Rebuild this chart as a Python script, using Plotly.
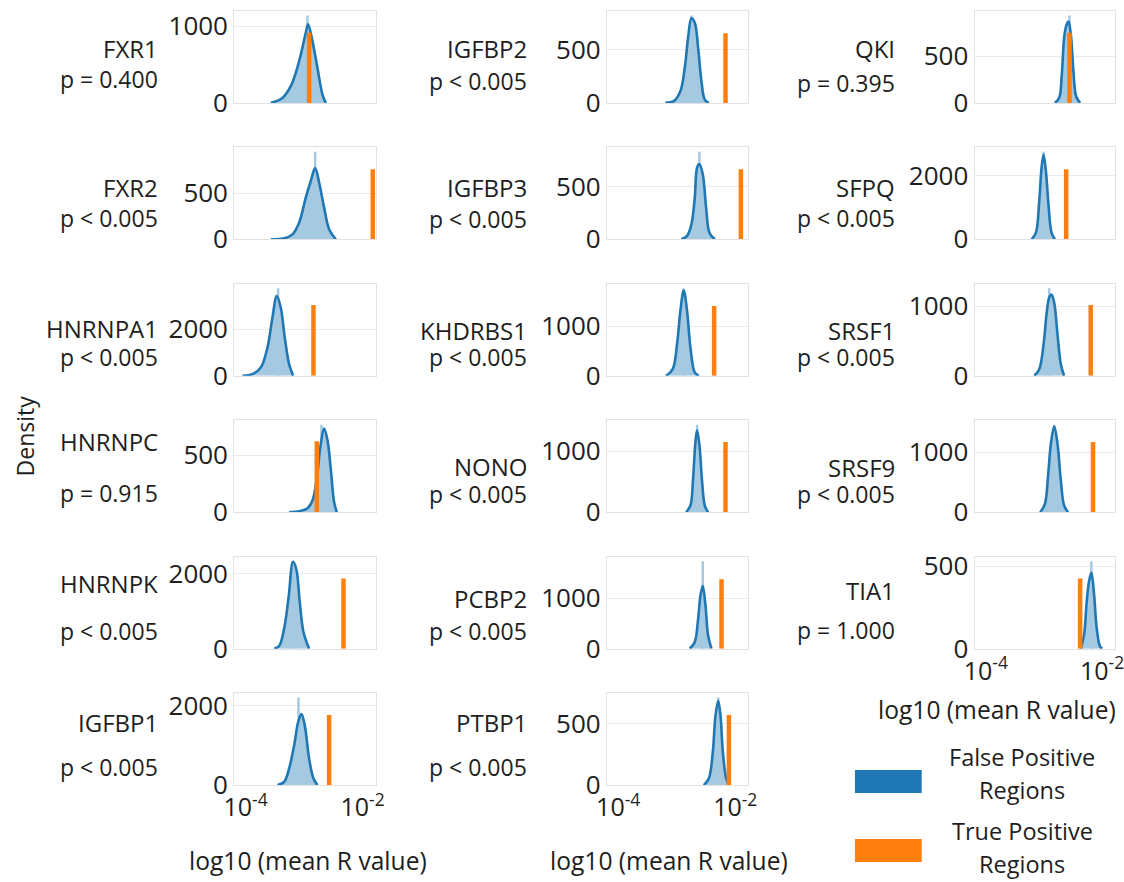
import plotly.graph_objects as go

# ---------------- data ----------------
genes = ["FXR1", "FXR2", "HNRNPA1", "HNRNPC", "HNRNPK", "IGFBP1",
         "IGFBP2", "IGFBP3", "KHDRBS1", "NONO", "PCBP2", "PTBP1",
         "QKI", "SFPQ", "SRSF1", "SRSF9", "TIA1"]

p_labels = ["p = 0.400", "p < 0.005", "p < 0.005", "p = 0.915", "p < 0.005", "p < 0.005",
            "p < 0.005", "p < 0.005", "p < 0.005", "p < 0.005", "p < 0.005", "p < 0.005",
            "p = 0.395", "p < 0.005", "p < 0.005", "p < 0.005", "p = 1.000"]

# KDE of false-positive regions: log10(mean R value) and density
kde_log10 = [
    [-3.569, -3.370, -3.227, -3.142, -3.056, -2.971, -2.931, -2.857, -2.772, -2.686, -2.629],
    [-3.569, -3.341, -3.199, -3.085, -2.971, -2.885, -2.811, -2.743, -2.658, -2.572, -2.458],
    [-4.054, -3.883, -3.740, -3.626, -3.541, -3.467, -3.398, -3.330, -3.256, -3.187],
    [-3.256, -3.085, -2.942, -2.857, -2.783, -2.726, -2.658, -2.600, -2.544, -2.487, -2.441],
    [-3.512, -3.427, -3.341, -3.267, -3.188, -3.131, -3.074, -3.011, -2.914],
    [-3.455, -3.341, -3.256, -3.170, -3.102, -3.045, -2.988, -2.914, -2.840, -2.772],
    [-3.195, -3.052, -2.938, -2.863, -2.806, -2.749, -2.692, -2.635, -2.578, -2.521, -2.452],
    [-2.921, -2.823, -2.749, -2.692, -2.652, -2.612, -2.555, -2.498, -2.441, -2.349],
    [-3.183, -3.069, -2.995, -2.938, -2.881, -2.823, -2.766, -2.692, -2.624],
    [-2.841, -2.766, -2.721, -2.681, -2.652, -2.612, -2.566, -2.521, -2.464],
    [-2.778, -2.692, -2.635, -2.595, -2.555, -2.509, -2.464, -2.407],
    [-2.538, -2.452, -2.384, -2.338, -2.292, -2.252, -2.212, -2.155, -2.109],
    [-2.812, -2.737, -2.692, -2.652, -2.612, -2.577, -2.537, -2.492, -2.446, -2.377],
    [-3.211, -3.137, -3.080, -3.040, -3.006, -2.966, -2.926, -2.869, -2.812],
    [-3.166, -3.080, -3.006, -2.949, -2.909, -2.869, -2.823, -2.766, -2.709, -2.652],
    [-3.063, -2.983, -2.926, -2.880, -2.823, -2.766, -2.709, -2.652, -2.583],
    [-2.366, -2.309, -2.263, -2.223, -2.183, -2.137, -2.092, -2.035, -1.995],
]
kde_density = [
    [0, 65, 217, 391, 630, 913, 1022, 804, 457, 109, 0],
    [0, 11, 54, 181, 453, 634, 772, 616, 344, 109, 0],
    [0, 71, 357, 1214, 2500, 3430, 2930, 1643, 500, 0],
    [0, 9, 35, 103, 294, 559, 735, 632, 382, 88, 0],
    [0, 71, 533, 1333, 2311, 2100, 1244, 444, 0],
    [0, 83, 417, 1000, 1583, 1792, 1500, 667, 167, 0],
    [0, 16, 109, 328, 609, 791, 750, 516, 203, 31, 0],
    [0, 32, 142, 396, 680, 712, 617, 301, 63, 0],
    [0, 133, 633, 1300, 1713, 1300, 567, 67, 0],
    [0, 110, 549, 1154, 1346, 1099, 495, 110, 0],
    [0, 131, 588, 1046, 1242, 850, 261, 0],
    [0, 54, 270, 568, 689, 568, 270, 54, 0],
    [0, 54, 304, 696, 832, 868, 732, 339, 71, 0],
    [0, 211, 1211, 2263, 2663, 2158, 1211, 211, 0],
    [0, 95, 452, 929, 1119, 1167, 1048, 595, 167, 0],
    [0, 139, 639, 1139, 1428, 1139, 528, 111, 0],
    [0, 85, 287, 409, 459, 328, 125, 14, 0],
]

# tallest histogram bin of the false-positive regions
hist_peak_log10 = [-2.942, -2.811, -3.444, -2.703, -3.188, -3.096,
                   -2.749, -2.612, -2.881, -2.652, -2.555, -2.292,
                   -2.560, -3.006, -2.909, -2.823, -2.183]
hist_peak_density = [1139, 949, 3769, 770, 2328, 2207,
                     818, 829, 1759, 1439, 1730, 715,
                     935, 2757, 1256, 1455, 530]

# true-positive regions: position and height of the orange bar
tp_log10 = [-2.914, -1.826, -2.840, -2.783, -2.327, -2.572,
            -2.167, -1.904, -2.361, -2.167, -2.235, -2.109,
            -2.560, -2.617, -2.195, -2.155, -2.377]
tp_height = [913, 761, 3044, 624, 1867, 1767,
             650, 665, 1400, 1154, 1373, 573,
             750, 2211, 1014, 1167, 425]

y_tick = [1000, 500, 2000, 500, 2000, 2000,
          500, 500, 1000, 1000, 1000, 500,
          500, 2000, 1000, 1000, 500]

x_tick_vals = [1e-4, 1e-2]
x_tick_text = ["10<sup>-4</sup>", "10<sup>-2</sup>"]

legend_labels = [["False Positive", "Regions"], ["True Positive", "Regions"]]

# ---------------- layout geometry (target pixels) ----------------
W, H = 1124, 882
# the page is laid out inside an 8px body margin; map target pixels to paper fractions
PLOT_W, PLOT_H, OFF = 1108, 857, 8


def fx(x):
    return min(max((x - OFF) / PLOT_W, 0.0), 1.0)


def fy(y):
    return min(max(1 - (y - OFF) / PLOT_H, 0.0), 1.0)


col_left = [232, 606, 975]
panel_w = 142
row_top = [10, 146.6, 283.2, 419.8, 556.4, 693]
panel_h = 92
label_right = [158, 528, 897]
gene_dy = [38, 40, 45, 21, 27, 29, 38, 40, 47, 46, 42, 29, 38, 40, 47, 47, 34]
p_dy = [68, 71, 73, 73, 74, 74, 70, 72, 73, 74, 74, 74, 72, 71, 73, 74, 73]
x_range = [-4.194, -1.777]

BLUE = "#1f77b4"
ORANGE = "#ff7f0e"
HIST = "#a5c9e1"
TXT = "#1e1e1e"
FONT = "Open Sans"

fig = go.Figure()
annotations = []
layout_axes = {}

for i, g in enumerate(genes):
    c, r = i // 6, i % 6
    k = i + 1
    xa = "x" if k == 1 else f"x{k}"
    ya = "y" if k == 1 else f"y{k}"
    # histogram spike (tallest bin)
    fig.add_trace(go.Scatter(x=[10 ** hist_peak_log10[i]] * 2, y=[0, hist_peak_density[i]],
                             mode="lines", line=dict(color=HIST, width=2.5),
                             xaxis=xa, yaxis=ya, hoverinfo="skip"))
    # KDE with filled area
    fig.add_trace(go.Scatter(x=[10 ** v for v in kde_log10[i]], y=kde_density[i],
                             mode="lines", line=dict(color=BLUE, width=2.6, shape="spline", smoothing=1.0),
                             fill="tozeroy", fillcolor=HIST, xaxis=xa, yaxis=ya, hoverinfo="skip"))
    # true positive bar
    fig.add_trace(go.Scatter(x=[10 ** tp_log10[i]] * 2, y=[0, tp_height[i]],
                             mode="lines", line=dict(color=ORANGE, width=4.5),
                             xaxis=xa, yaxis=ya, hoverinfo="skip"))

    ymax = 1.05 * max(hist_peak_density[i], max(kde_density[i]), tp_height[i])
    left = col_left[c]
    top = row_top[r]
    bottom_panel = (i == 5) or (i == 11) or (i == 16)
    layout_axes["xaxis" if k == 1 else f"xaxis{k}"] = dict(
        domain=[fx(left), fx(left + panel_w)], anchor=ya, type="log", range=x_range,
        tickvals=x_tick_vals, ticktext=x_tick_text, showticklabels=bottom_panel,
        ticklabeloverflow="allow",
        showgrid=False, zeroline=False, showline=True, mirror=True, linecolor="#e2e2e2",
        linewidth=1, ticks="", tickfont=dict(family=FONT, size=25, color=TXT))
    layout_axes["yaxis" if k == 1 else f"yaxis{k}"] = dict(
        domain=[fy(top + panel_h), fy(top)], anchor=xa, range=[0, ymax],
        tickvals=[0, y_tick[i]], showgrid=True, gridcolor="#ebebeb", zeroline=False,
        showline=True, mirror=True, linecolor="#e2e2e2", linewidth=1, ticks="",
        tickfont=dict(family=FONT, size=26, color=TXT))

    annotations.append(dict(text=g, x=fx(label_right[c]), y=fy(top + gene_dy[i]),
                            xref="paper", yref="paper", xanchor="right", yanchor="middle",
                            showarrow=False, font=dict(family=FONT, size=24, color=TXT)))
    annotations.append(dict(text=p_labels[i], x=fx(label_right[c]), y=fy(top + p_dy[i]),
                            xref="paper", yref="paper", xanchor="right", yanchor="middle",
                            showarrow=False, font=dict(family=FONT, size=23, color=TXT)))

# axis titles
for (tx, ty) in [(306, 860), (668, 860), (998, 709)]:
    annotations.append(dict(text="log10 (mean R value)", x=fx(tx), y=fy(ty), xref="paper", yref="paper",
                            xanchor="center", yanchor="middle", showarrow=False,
                            font=dict(family=FONT, size=24.6, color=TXT)))
annotations.append(dict(text="Density", x=fx(22), y=fy(435), xref="paper", yref="paper",
                        xanchor="center", yanchor="middle", textangle=-90, showarrow=False,
                        font=dict(family=FONT, size=23, color=TXT)))

# legend
shapes = []
for j, (col, y0, y1) in enumerate([(BLUE, 770, 793), (ORANGE, 839, 862)]):
    shapes.append(dict(type="rect", xref="paper", yref="paper", x0=fx(855), x1=fx(922),
                       y0=fy(y1), y1=fy(y0), fillcolor=col, line=dict(width=0)))
for j, ys in enumerate([(757, 790), (831, 864)]):
    for line_txt, yy in zip(legend_labels[j], ys):
        annotations.append(dict(text=line_txt, x=fx(1023), y=fy(yy), xref="paper", yref="paper",
                                xanchor="center", yanchor="middle", showarrow=False,
                                font=dict(family=FONT, size=23.5, color=TXT)))

fig.update_layout(width=W, height=H, margin=dict(l=0, r=0, t=0, b=0),
                  paper_bgcolor="white", plot_bgcolor="white", showlegend=False,
                  annotations=annotations, shapes=shapes, **layout_axes)

fig.write_html("out.html")
